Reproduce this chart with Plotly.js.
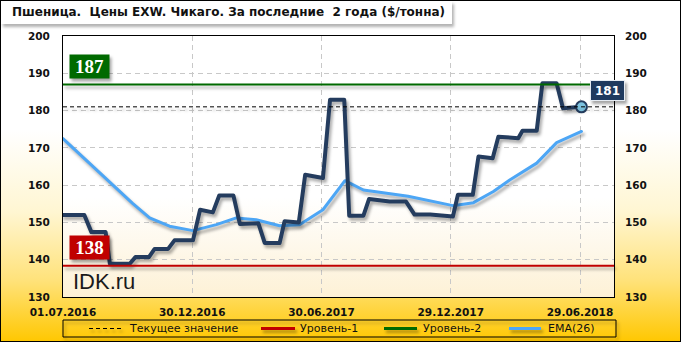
<!DOCTYPE html>
<html><head><meta charset="utf-8">
<script src="https://cdn.plot.ly/plotly-3.0.1.min.js"></script>
<style>
html,body{margin:0;padding:0;}
#wrap{position:relative;width:681px;height:342px;overflow:hidden;
 background:linear-gradient(180deg,#ffffff 0%,#ffffff 38%,#fff6d2 62%,#ffe27a 82%,#ffc700 100%);}
#plotbg{position:absolute;left:63px;top:36px;width:551px;height:261px;
 background:linear-gradient(180deg,#ffffff 0%,#ffffff 62%,#fdf1d6 100%);}
#chart{position:absolute;left:0;top:0;width:681px;height:342px;}
#frame{position:absolute;left:0;top:0;width:681px;height:342px;box-sizing:border-box;border:1px solid #000;pointer-events:none;}
#chart .scatterlayer path.js-line{stroke-linejoin:round;stroke-linecap:round;filter:drop-shadow(2px 3px 1.5px rgba(0,0,0,0.33));}
#chart .shapelayer path{filter:drop-shadow(2px 3px 1.5px rgba(0,0,0,0.3));}
#chart .annotation rect.bg{filter:drop-shadow(2px 3px 1.5px rgba(0,0,0,0.35));}
</style></head>
<body>
<div id="wrap"><div id="plotbg"></div><div id="chart"></div><div id="frame"></div></div>
<script>
// ---- data ----
var priceDates = ['2016-07-01','2016-07-31','2016-08-10','2016-08-30','2016-09-05','2016-10-03','2016-10-11','2016-10-30','2016-11-07','2016-11-26','2016-12-05','2016-12-31','2017-01-10','2017-01-28','2017-02-06','2017-02-26','2017-03-07','2017-04-02','2017-04-11','2017-05-02','2017-05-09','2017-05-29','2017-06-07','2017-07-02','2017-07-12','2017-08-01','2017-08-08','2017-08-28','2017-09-05','2017-10-04','2017-10-27','2017-11-08','2017-11-30','2017-12-28','2018-01-01','2018-01-08','2018-01-29','2018-02-06','2018-02-26','2018-03-06','2018-04-03','2018-04-09','2018-04-29','2018-05-07','2018-05-27','2018-06-05','2018-06-17','2018-07-01'];
var prices = [152.0,152.0,147.4,147.4,138.9,138.9,140.7,140.7,142.9,142.9,145.2,145.2,153.4,152.7,157.2,157.2,149.6,149.8,144.5,144.5,150.3,150.0,162.8,161.9,182.9,182.9,151.8,151.8,156.3,155.6,155.6,152.1,152.1,151.6,151.6,157.4,157.4,167.7,167.2,173.0,172.6,174.6,174.6,187.3,187.3,180.6,180.9,181.0];
var emaDates = ['2016-07-01','2016-07-27','2016-08-21','2016-09-15','2016-10-07','2016-10-31','2016-11-28','2016-12-31','2017-02-02','2017-03-02','2017-03-30','2017-05-02','2017-05-30','2017-07-02','2017-08-02','2017-08-28','2017-10-30','2018-01-01','2018-01-30','2018-02-27','2018-03-22','2018-04-29','2018-05-27','2018-07-01'];
var emaValues = [172.5,167.9,163.4,159.0,155.1,151.2,149.0,147.8,149.4,151.2,150.7,149.1,149.4,153.4,161.2,158.7,157.0,154.5,155.3,158.3,161.4,165.9,171.4,174.4];
var level1 = 138.4;   // Уровень-1
var level2 = 187.0;   // Уровень-2
var xTickDates = ['2016-07-01','2016-12-30','2017-06-30','2017-12-29','2018-06-29'];
var xTickLabels = ['01.07.2016','30.12.2016','30.06.2017','29.12.2017','29.06.2018'];
var yTicks = [130,140,150,160,170,180,190,200];
var titleText = 'Пшеница.\u00A0 Цены EXW. Чикаго. За последние\u00A0 2 года ($/тонна)';
var legendNames = ['Текущее значение','Уровень-1','Уровень-2','EMA(26)'];

// ---- layout helpers (pixel -> paper) ----
var L=63,T=36,W=551,H=261;
function fx(p){return (p-L)/W;}
function fy(p){return (T+H-p)/H;}
var current = prices[prices.length-1];
var NAVY='#243c5e', BLUE='#4da6f5', GREEN='#006a00', RED='#c00000';

var traces = [
 {x:emaDates,y:emaValues,type:'scatter',mode:'lines',line:{color:BLUE,width:3},hoverinfo:'skip'},
 {x:priceDates,y:prices,type:'scatter',mode:'lines',line:{color:NAVY,width:4},hoverinfo:'skip'},
 {x:[priceDates[priceDates.length-1]],y:[current],type:'scatter',mode:'markers',
  marker:{size:11,color:'#7cc3e0',line:{color:NAVY,width:2}},hoverinfo:'skip'}
];

var tickFont={family:'DejaVu Sans',size:10.5,color:'#111',weight:'bold'};
var legFont={family:'DejaVu Sans',size:11,color:'#111'};
var legY=fy(328.5);

var shapes = [
 {type:'rect',xref:'paper',yref:'paper',x0:fx(1),x1:fx(452),y0:fy(1),y1:fy(24),fillcolor:'#fff',line:{width:0},layer:'above'},
 {type:'rect',xref:'paper',yref:'paper',x0:fx(63),x1:fx(616),y0:fy(320),y1:fy(337),fillcolor:'rgba(0,0,0,0)',line:{color:'#000',width:1}},
 {type:'line',xref:'paper',yref:'y',x0:0,x1:1,y0:level1,y1:level1,line:{color:RED,width:2}},
 {type:'line',xref:'paper',yref:'y',x0:0,x1:1,y0:level2,y1:level2,line:{color:GREEN,width:2}},
 {type:'line',xref:'paper',yref:'y',x0:0,x1:1,y0:current,y1:current,line:{color:'#000',width:1,dash:'4px,3px'}},
 {type:'line',xref:'paper',yref:'paper',x0:fx(89),x1:fx(122),y0:legY,y1:legY,line:{color:'#000',width:1,dash:'4px,3px'}},
 {type:'line',xref:'paper',yref:'paper',x0:fx(261),x1:fx(295),y0:legY,y1:legY,line:{color:RED,width:3}},
 {type:'line',xref:'paper',yref:'paper',x0:fx(384),x1:fx(417),y0:legY,y1:legY,line:{color:GREEN,width:3}},
 {type:'line',xref:'paper',yref:'paper',x0:fx(509),x1:fx(541),y0:legY,y1:legY,line:{color:BLUE,width:3}}
];

var annotations = [
 {xref:'paper',yref:'paper',x:fx(10),y:fy(12.5),xanchor:'left',yanchor:'middle',showarrow:false,text:titleText,
  font:{family:'DejaVu Sans',size:12,color:'#111',weight:'bold'}},
 {xref:'paper',yref:'paper',x:fx(71),y:fy(281),xanchor:'left',yanchor:'middle',showarrow:false,text:'IDK.ru',
  font:{family:'Liberation Sans',size:22,color:'#1a1a1a'}},
 {xref:'paper',yref:'y',x:fx(89.5),y:level2,yshift:18,xanchor:'center',yanchor:'middle',showarrow:false,text:String(Math.round(level2)),
  bgcolor:GREEN,width:39,height:23,borderpad:0,font:{family:'Liberation Serif',size:19,color:'#fff',weight:'bold'}},
 {xref:'paper',yref:'y',x:fx(89),y:level1,yshift:18,xanchor:'center',yanchor:'middle',showarrow:false,text:String(Math.round(level1)),
  bgcolor:RED,width:39,height:23,borderpad:0,font:{family:'Liberation Serif',size:19,color:'#fff',weight:'bold'}},
 {xref:'paper',yref:'y',x:fx(607),y:current,yshift:16,xanchor:'center',yanchor:'middle',showarrow:false,text:String(Math.round(current)),
  bgcolor:'#1f3a5f',bordercolor:'#e6ecf3',borderwidth:1,width:33,height:19,borderpad:0,
  font:{family:'DejaVu Sans',size:12,color:'#fff',weight:'bold'}},
 {xref:'paper',yref:'paper',x:fx(127),y:legY,xanchor:'left',yanchor:'middle',showarrow:false,text:legendNames[0],font:legFont},
 {xref:'paper',yref:'paper',x:fx(298),y:legY,xanchor:'left',yanchor:'middle',showarrow:false,text:legendNames[1],font:legFont},
 {xref:'paper',yref:'paper',x:fx(421),y:legY,xanchor:'left',yanchor:'middle',showarrow:false,text:legendNames[2],font:legFont},
 {xref:'paper',yref:'paper',x:fx(546),y:legY,xanchor:'left',yanchor:'middle',showarrow:false,text:legendNames[3],font:legFont}
];

var layout = {
 width:681,height:342,margin:{l:L,r:681-L-W,t:T,b:342-T-H,pad:0},
 paper_bgcolor:'rgba(0,0,0,0)',plot_bgcolor:'rgba(0,0,0,0)',showlegend:false,
 xaxis:{type:'date',range:['2016-07-01','2018-08-15 20:00'],tickmode:'array',tickvals:xTickDates,ticktext:xTickLabels,
  showgrid:true,gridcolor:'#c8c8c8',griddash:'5px,4px',gridwidth:1,ticks:'',ticklabelstandoff:5,
  showline:true,linecolor:'#000',linewidth:1,mirror:true,zeroline:false,tickfont:tickFont,fixedrange:true},
 yaxis:{range:[130,200],tickmode:'array',tickvals:yTicks,showgrid:true,gridcolor:'#c8c8c8',griddash:'5px,4px',gridwidth:1,
  ticks:'',ticklabelstandoff:10,showline:true,linecolor:'#000',linewidth:1,mirror:true,zeroline:false,tickfont:tickFont,fixedrange:true},
 yaxis2:{range:[130,200],overlaying:'y',side:'right',tickmode:'array',tickvals:yTicks,showgrid:false,ticks:'',
  ticklabelstandoff:10,showline:false,zeroline:false,tickfont:tickFont,fixedrange:true},
 shapes:shapes,annotations:annotations
};
traces.push({x:[xTickDates[0]],y:[yTicks[0]],yaxis:'y2',type:'scatter',mode:'markers',marker:{opacity:0},hoverinfo:'skip'});
Plotly.newPlot('chart',traces,layout,{staticPlot:true,displayModeBar:false});
</script>
</body></html>
